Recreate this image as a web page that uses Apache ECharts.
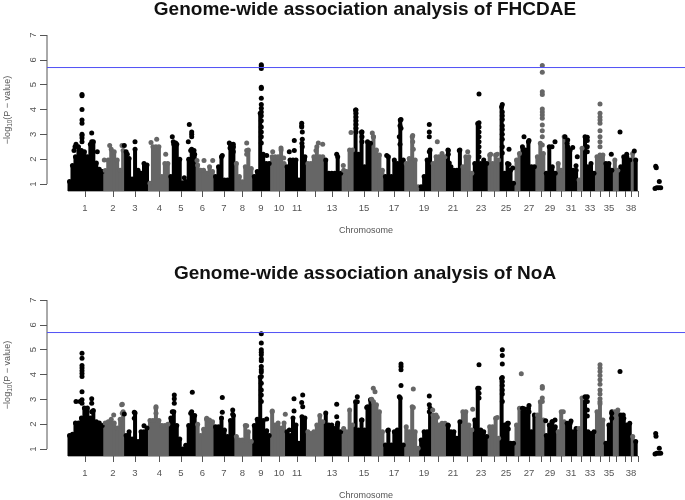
<!DOCTYPE html>
<html><head><meta charset="utf-8">
<style>html,body{margin:0;padding:0;background:#fff}#c{width:685px;height:500px}</style>
<script src="https://cdn.jsdelivr.net/npm/echarts@6/dist/echarts.min.js"></script>
</head><body><div id="c"></div>
<script>
var chromEdges=[21,56.5,77,102,123,148,166,189,206,223,240,260,276,295,308,324.7,338,357,371.3,384.7,399,413,426.3,442.3,452.3,468,474.7,488,497,509.7,518,531.3,538,549,558,566.3,572.3,583,586.3,591];
var tickPositions=[38,66,88,112.5,134,155.5,177,195.5,214,232,250,268.5,285,301.5,317,331,347,362,377,391,406,420,434,447,459,471,482,494,503,514,524,534,543,553,562,569,578,584,591];
var tickLabels=['1','2','3','4','5','6','7','8','9','10','11','','13','','15','','17','','19','','21','','23','','25','','27','','29','','31','','33','','35','','','38',''];
var yTicks=[1,2,3,4,5,6,7];
var threshold=5.69;

var fhcdaeTops=[1.1,1.75,2.1,2.5,2.35,2.3,2.1,2.6,2.7,1.85,1.6,1.5,
1.55,1.97,2.4,2.3,1.97,1.56,2.35,2.3,
2.03,1.2,2.4,1.56,1.43,1.83,1.77,1.03,
2.5,2.5,2.5,1.3,1.83,1.83,1.3,
2.6,2.6,2,1.05,1.1,2,2.4,2.2,
1.77,1.56,1.56,1.43,1.7,1.5,
1.3,1.7,2.1,1.16,1.16,2.6,2.5,1.83,
1.3,1.09,1.7,2.37,1.63,1.3,
1.5,3.85,2.2,1.83,1.83,
2.1,2.1,2.1,2.37,1.83,1.7,
1.97,1.97,1.97,1.16,2.64,2.1,
1.83,1.83,2.1,2.5,2.1,2.1,
1.97,1.43,1.43,1.43,2.1,1.43,
1.56,1.5,2.37,2.37,3.98,2.2,3.1,1.7,2.7,2.64,
2.9,2.37,2.17,1.56,1.3,2.1,1.3,1.97,1.83,3.58,
1.97,1.83,2.03,2.9,1.97,0.89,0.89,1.3,1.97,2.37,
1.83,2.1,2.1,2.23,2.1,2.37,1.7,1.56,1.56,2.37,
1.7,2.1,2.1,1.43,1.83,3.44,1.83,1.97,1.83,2.17,
1.83,2.17,1.97,4.11,1.43,1.83,1.56,1.03,1.97,2.23,
2.5,2.37,2.7,1.7,1.7,2.1,2.64,2.23,1.43,2.5,
1.7,1.43,1.83,1.56,2.9,2.64,2.37,1.56,1.56,1.16,
2.44,2.9,1.7,1.83,1.43,2.1,2.17,2.17,1.83,1.83,
1.56,1.97,1.56,1.7,2.1,2.1,1.97,2.23,1.97];

var noaTops=[1.55,1.6,2.05,2.05,2.25,2.65,2.65,2.25,2.55,2.1,2.05,1.95,
2.05,2.1,2.2,2.05,1.85,2.2,2.5,1.55,
1.7,1.4,2.45,1.3,1.7,1.7,1.85,
2.15,2.15,2.65,2.15,1.95,1.95,2,
2.25,2.5,1.95,1.4,1,1.15,1.95,2.5,2.35,
2,1.55,1.8,2.2,2.15,2.1,
1.9,1.9,2.25,1.77,1.5,2.15,2.35,
1.5,1.36,1.36,1.95,1.7,1.3,
1.95,2.2,3.9,2.15,1.7,1.55,
2.5,1.97,2.05,1.85,2.05,1.7,
1.55,2.25,1.97,1.23,2.3,2.25,
1.7,1.63,1.7,1.97,2.35,2.1,
2.45,1.97,1.97,1.83,2.05,1.7,
1.83,1.7,2.57,1.97,2.9,1.77,2.17,1.77,2.7,2.98,
2.9,2.78,2.5,1.7,1.16,1.77,1.16,1.7,1.77,3.05,
1.16,1.9,1.7,2.7,1.7,1.03,1.36,1.7,1.7,2.64,
2.37,2.37,1.97,2.04,2.04,1.97,1.7,1.7,1.43,2.1,
2.5,2.5,1.97,1.77,2.17,3.45,1.77,1.7,1.5,1.9,
1.9,2.24,1.43,3.85,1.97,2.04,1.23,1.23,1.97,2.64,
2.64,2.5,2.64,1.7,2.37,2.37,2.9,2.17,1.55,1.97,
2.1,1.9,1.7,2.5,2.1,2.04,2.04,1.7,1.83,1.83,
3.05,3.11,1.7,1.63,1.7,2.5,2.9,2.17,1.23,1.97,
2.5,2.5,2.57,2.37,2.24,1.97,2.04,1.5,1.3];

var fhcdaePeaks=[[35,4.6],[35,4.55],[35,4],[35,3.58],[35,3.45],[35,3],[35,2.95],[35,2.85],[35,2.7],[44.7,3.05],[44.7,2.7],[27,2.35],[28,2.5],[29,2.6],[50.3,2.3],
[57.3,1.97],[62.7,2.55],[75,2.55],[77.3,2.55],[80.3,2.2],[88,2.7],[104,2.67],[109.7,2.8],[118.7,2.2],
[125.3,2.9],[126.3,2.7],[128.7,2.65],[137.3,1.25],[142.3,3.4],[141.3,2.7],[144.7,3.1],[144.7,3],[144.7,2.9],[143.7,2.35],[147,2.35],
[150,1.95],[157,1.95],[165.7,1.95],[175.3,2.15],[182.3,2.65],[186.3,2.6],[183,2.45],[186.3,2.3],[199.7,2.65],[199.7,2.35],[199.7,2.2],
[214.3,5.8],[214.3,5.75],[214.3,5.65],[214.3,4.9],[214.3,4.85],[214.3,4.45],[214.3,4.2],[214.3,4.05],[214.3,3.9],[214.3,3.75],[214.3,3.55],[214.3,3.3],[214.3,3.1],[214.3,2.9],[214.3,2.65],[219.7,2.15],
[225.7,2.3],[234,2.45],[236.7,2.05],[242.3,2.3],[247.3,2.75],[247.3,2.35],[254.7,3.45],[254.7,3.35],[254.7,3.3],[255.3,3.1],[255.3,2.8],[255.3,2.5],
[269,2.35],[271.3,2.65],[275.7,2.6],[289.7,2.2],[296.3,1.75],[304,3.08],
[309,3.98],[309,3.85],[309,3.7],[309,3.55],[309,3.4],[309,3.25],[309,3.1],[315,3.1],[315,2.9],[315,2.7],[321.3,2.65],[325.3,3.05],[326.3,2.9],[339.7,2.15],
[354,3.6],[353,3.35],[354,3.25],[352.3,2.9],[353,2.6],[365.7,2.95],[365.7,2.7],[366.3,2.4],
[382.3,3.4],[382.3,3.1],[382.3,2.9],[382.3,2.3],[390.3,2.7],[401.3,2.35],[401.3,2.2],[402.3,1.85],[412.3,2.35],[420.7,2.3],
[432,4.62],[432,3.47],[432,3.3],[432,3.1],[432,2.9],[432,2.7],[432,2.5],[432,2.3],[432,2.1],[443.7,2.2],[450.3,2.2],
[455.3,4.2],[455.3,3.9],[455.3,3.75],[455.3,3.6],[455.3,3.35],[455.3,3.2],[455.3,3],[455.3,2.8],[455.3,2.5],[455.3,2.25],[462,2.4],[462,1.8],[465.7,1.65],
[477,2.9],[482,2.75],
[495.3,5.77],[495.3,5.5],[495.3,4.72],[495.3,4.6],[495.3,4.02],[495.3,3.9],[495.3,3.78],[495.3,3.65],[495.3,3.38],[495.3,3.15],[495.3,2.9],[495.3,2.57],
[505,2.5],[508,2.7],[518,2.9],[520.7,2.77],[520.7,2.5],[525.7,2.47],[529,1.74],[530.3,2.1],
[540.3,2.88],[540.3,2.75],[540.3,2.5],[540.3,2.3],
[553,4.22],[553,3.85],[553,3.7],[553,3.58],[553,3.45],[553,3.15],[553,2.9],[553,2.7],[553,2.5],
[564.3,2.2],[573,3.1],[579.7,2.2],[587.3,2.33],
[608.7,1.72],[609.3,1.66],[612.3,1.1],[611.7,0.85],[609.7,0.85],[613.7,0.85],[608,0.82]];

var noaPeaks=[[35,4.86],[35,4.66],[35,4.36],[35,4.26],[35,4.15],[35,4.04],[35,3.92],[35,3.31],[35,2.98],[35,2.84],[29,2.91],[33,2.91],[44.7,3.02],[44.7,2.84],[44.7,2.5],
[66.7,2.37],[74.7,2.78],[75.3,2.44],[75.3,2.8],[77.3,2.41],[87.3,2.48],[87.3,2.24],[97,1.94],[109,2.7],[109,2.44],
[127.3,3.18],[127.3,3.02],[127.3,2.84],[125.3,2.5],[145.3,3.29],[143.7,2.44],[159.7,2.24],[162.3,2.17],
[175.3,3.07],[175.3,2.48],[185.7,2.57],[185.7,2.4],[199.7,1.94],
[214.3,5.64],[214.3,5.27],[214.3,5],[214.3,4.9],[214.3,4.8],[214.3,4.63],[214.3,4.55],[214.3,4.32],[214.3,4.19],[214.3,4.1],[214.3,3.92],[214.3,3.65],[214.3,3.38],[214.3,3.18],[214.3,2.91],[219.7,2.21],[219.7,1.74],
[225.3,2.53],[238.3,2.4],[242.3,1.77],[247,3.02],[247,2.53],[255.7,3.18],[254.7,2.87],[255.7,2.7],
[289.7,2.8],[289.7,2.3],[290.3,1.97],
[310.3,3.11],[310.3,2.9],[315,2.17],[319.7,2.67],[326.3,3.45],[328,3.31],[324.7,3],[340.7,1.74],
[354,4.42],[354,4.32],[354,4.19],[354,3.56],[352.3,3.11],[366.3,3.42],[366.3,2.67],[382.3,3.14],[382.3,2.78],[382.3,2.5],[385.7,2.57],[390.3,2.28],[401.3,1.94],
[432,4.39],[432,3.45],[432,3.25],[432,3.05],[425.7,2.6],[450.3,2.27],
[455.3,5],[455.3,4.77],[455.3,4.42],[455.3,3.88],[455.3,3.72],[455.3,3.56],[455.3,3.38],[455.3,3.22],[455.3,2.91],[461.3,2.04],[461.3,1.81],
[474.3,4.03],[482,2.75],[482,2.5],[477,2.62],
[495.3,3.52],[495.3,3.45],[495.3,3.05],[495.3,2.91],[498.7,2.14],[508,2.17],[505,2.1],[516.3,2.5],[524,2.13],
[540.3,3.11],[540.3,2.91],[540.3,2.57],[540.3,2.33],
[553,4.39],[553,4.26],[553,4.12],[553,3.96],[553,3.79],[553,3.61],[553,3.38],[553,3.22],[553,3.02],[553,2.82],
[564.7,2.44],[564.7,2.24],[573,4.12],[576.3,2.37],
[608.7,1.63],[609,1.52],[612.3,1.03],[609.7,0.83],[611.7,0.83],[613.7,0.83],[608,0.8]];

var BLACK='#000',GREY='#666',AXIS='#555',BLUE='#5050f5',FONT='"Liberation Sans",Arial,sans-serif';
var X_MAX=638,Y_MIN=0.72,COL_START=22.5,COL_STEP=2.98;

function colorAt(x){
  for(var i=0;i<chromEdges.length-1;i++){
    if(x>=chromEdges[i]&&x<chromEdges[i+1])return i%2===0?BLACK:GREY;
  }
  return BLACK;
}
function bars(tops){return tops.map(function(v,i){var x=COL_START+i*COL_STEP;return {value:[x,v],itemStyle:{color:colorAt(x),opacity:1}};});}
function dots(points){return points.map(function(p){return {value:p,itemStyle:{color:colorAt(p[0]),opacity:1}};});}
function caps(tops){return tops.map(function(v,i){return [COL_START+i*COL_STEP,v];});}
function line(g,data,color,z){return {type:'line',xAxisIndex:g,yAxisIndex:g,data:data,symbol:'none',silent:true,clip:false,z:z,
  lineStyle:{color:color,width:1}};}

var labelled=tickPositions.filter(function(_,i){return tickLabels[i]!=='';});
function xAxis(g){return {gridIndex:g,type:'value',min:0,max:X_MAX,
  name:'Chromosome',nameLocation:'middle',nameGap:35,nameTextStyle:{fontFamily:FONT,fontSize:9,color:AXIS},
  axisLine:{show:false},splitLine:{show:false},
  axisTick:{show:true,length:6,customValues:tickPositions,lineStyle:{color:AXIS,width:1}},
  axisLabel:{show:true,margin:12,fontFamily:FONT,fontSize:9.5,color:AXIS,customValues:labelled,
    formatter:function(v){return tickLabels[tickPositions.indexOf(v)];}}};}
function yAxis(g){return {gridIndex:g,type:'value',min:Y_MIN,max:7,
  name:'{a|\u2212log}{s|10}{a|(P \u2212 value)}',nameLocation:'middle',nameGap:33,nameRotate:90,
  nameTextStyle:{padding:[0,0,0,6],rich:{a:{fontFamily:FONT,fontSize:9,color:AXIS},s:{fontFamily:FONT,fontSize:6.5,color:AXIS,verticalAlign:'bottom',padding:[5,0,0,0]}}},
  axisLine:{show:false},splitLine:{show:false},
  axisTick:{show:true,length:7,customValues:yTicks,lineStyle:{color:AXIS,width:1}},
  axisLabel:{show:true,rotate:90,margin:9,fontFamily:FONT,fontSize:9.5,color:AXIS,customValues:yTicks,verticalAlign:'bottom',align:'center'}};}
function panel(g,tops,peaks){return [
  {type:'bar',xAxisIndex:g,yAxisIndex:g,barWidth:4,data:bars(tops),silent:true,z:2},
  {type:'scatter',xAxisIndex:g,yAxisIndex:g,symbolSize:5,data:dots(caps(tops)),silent:true,z:3},
  {type:'scatter',xAxisIndex:g,yAxisIndex:g,symbolSize:5,data:dots(peaks),silent:true,z:3},
  line(g,[[0,threshold],[X_MAX,threshold]],BLUE,4),
  line(g,[[COL_START-1.5,Y_MIN],[X_MAX-47,Y_MIN]],AXIS,1),
  line(g,[[0,yTicks[0]],[0,yTicks[yTicks.length-1]]],AXIS,1)
];}

var chart=echarts.init(document.getElementById('c'),null,{renderer:'canvas'});
chart.setOption({
  animation:false,backgroundColor:'#fff',
  title:[
    {text:'Genome-wide association analysis of FHCDAE',left:360,top:-5,textAlign:'center',textStyle:{fontFamily:FONT,fontWeight:'bold',fontSize:19,color:'#111'}},
    {text:'Genome-wide association analysis of NoA',left:360,top:259,textAlign:'center',textStyle:{fontFamily:FONT,fontWeight:'bold',fontSize:19,color:'#111'}}
  ],
  grid:[
    {left:47,width:X_MAX,top:35,height:156,outerBoundsMode:'none'},
    {left:47,width:X_MAX,top:300,height:156,outerBoundsMode:'none'}
  ],
  xAxis:[xAxis(0),xAxis(1)],
  yAxis:[yAxis(0),yAxis(1)],
  series:panel(0,fhcdaeTops,fhcdaePeaks).concat(panel(1,noaTops,noaPeaks))
});
</script></body></html>
